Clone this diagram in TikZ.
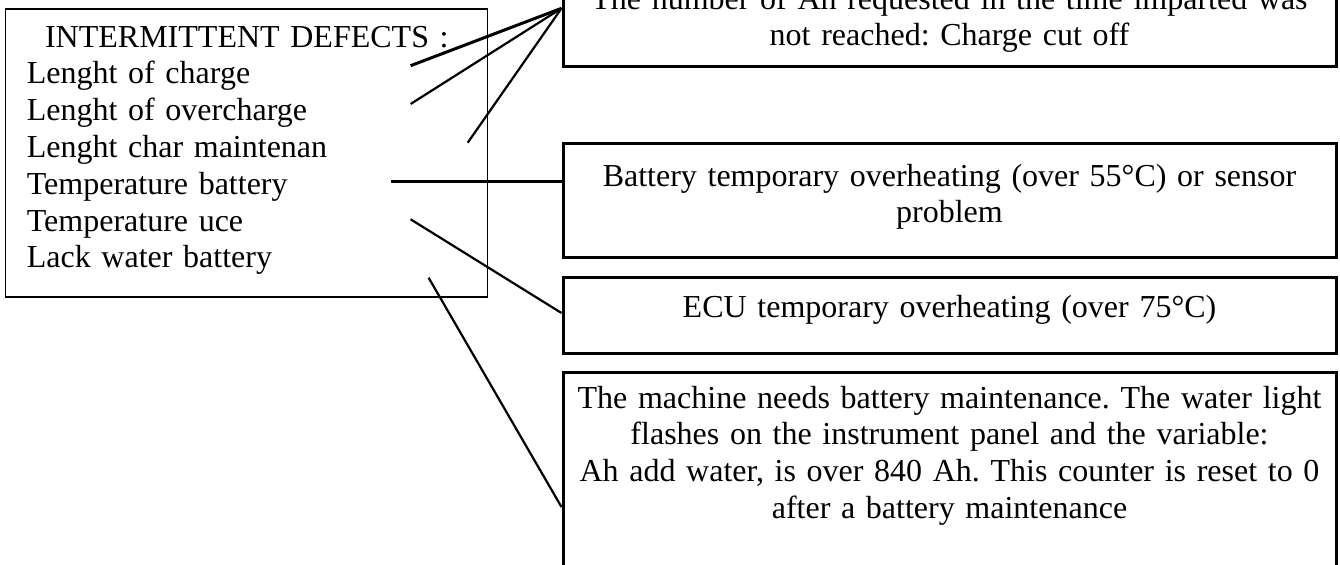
\documentclass[tikz,border=0pt]{standalone}
\usepackage{fontspec}
\setmainfont{Liberation Serif}
\usetikzlibrary{calc}
\frenchspacing

\tikzset{
  defect/.style={draw=black, line width=1.5pt, anchor=base, text width=375pt,
    inner xsep=5.75pt, inner ysep=0pt, align=center,
    font=\fontsize{16pt}{18.4pt}\selectfont},
  link/.style={line width=1.1pt},
  boldlink/.style={line width=1.5pt},
}

\begin{document}
\begin{tikzpicture}[x=0.5pt,y=-0.5pt]
  \useasboundingbox (0,0) rectangle (1340,564);
  \clip (0,0) rectangle (1340,564);

  % List of intermittent defects
  \node[draw, line width=0.6pt, anchor=base, text width=220pt, inner xsep=10.5pt,
    inner ysep=0pt, text height=19pt, text depth=125pt, align=left,
    font=\fontsize{16pt}{18.4pt}\selectfont] (list) at (246.85,47)
    {\makebox[\linewidth][c]{INTERMITTENT DEFECTS :}\\
     Lenght of charge\\
     Lenght of overcharge\\
     Lenght char maintenan\\
     Temperature battery\\
     Temperature uce\\
     Lack water battery};

  % Explanations
  \node[defect, text height=21pt, text depth=28.5pt] (ahbox) at (949.5,9)
    {The number of Ah requested in the time imparted was\\not reached: Charge cut off};
  \node[defect, text height=21.5pt, text depth=35.5pt] (battbox) at (949.5,186)
    {Battery temporary overheating (over 55°C) or sensor\\problem};
  \node[defect, text height=20pt, text depth=18pt] (ecubox) at (949.5,317)
    {ECU temporary overheating (over 75°C)};
  \node[defect, text height=18pt, text depth=100pt] (waterbox) at (949.5,408)
    {The machine needs battery maintenance. The water light\\
     flashes on the instrument panel and the variable:\\
     Ah add water, is over 840 Ah. This counter is reset to 0\\
     after a battery maintenance};

  % Free ends beside the list
  \coordinate (c1) at (410.6,65.7);
  \coordinate (c2) at (410.6,104);
  \coordinate (c3) at (467.7,142.7);
  \coordinate (c4) at (391,181.7);
  \coordinate (c5) at (410.6,219.3);
  \coordinate (c6) at (428.6,277.7);
  % Heights where the links meet the boxes
  \coordinate (e1) at (0,8.3);
  \coordinate (e5) at (0,313);
  \coordinate (e6) at (0,507);
  \coordinate (hub) at (ahbox.west |- e1);

  \draw[boldlink] (c1) -- (hub);
  \draw[link] (c2) -- (hub);
  \draw[link] (c3) -- (hub);
  \draw[boldlink] (c4) -- (battbox.west |- c4);
  \draw[link] (c5) -- (ecubox.west |- e5);
  \draw[link] (c6) -- (waterbox.west |- e6);
\end{tikzpicture}
\end{document}
